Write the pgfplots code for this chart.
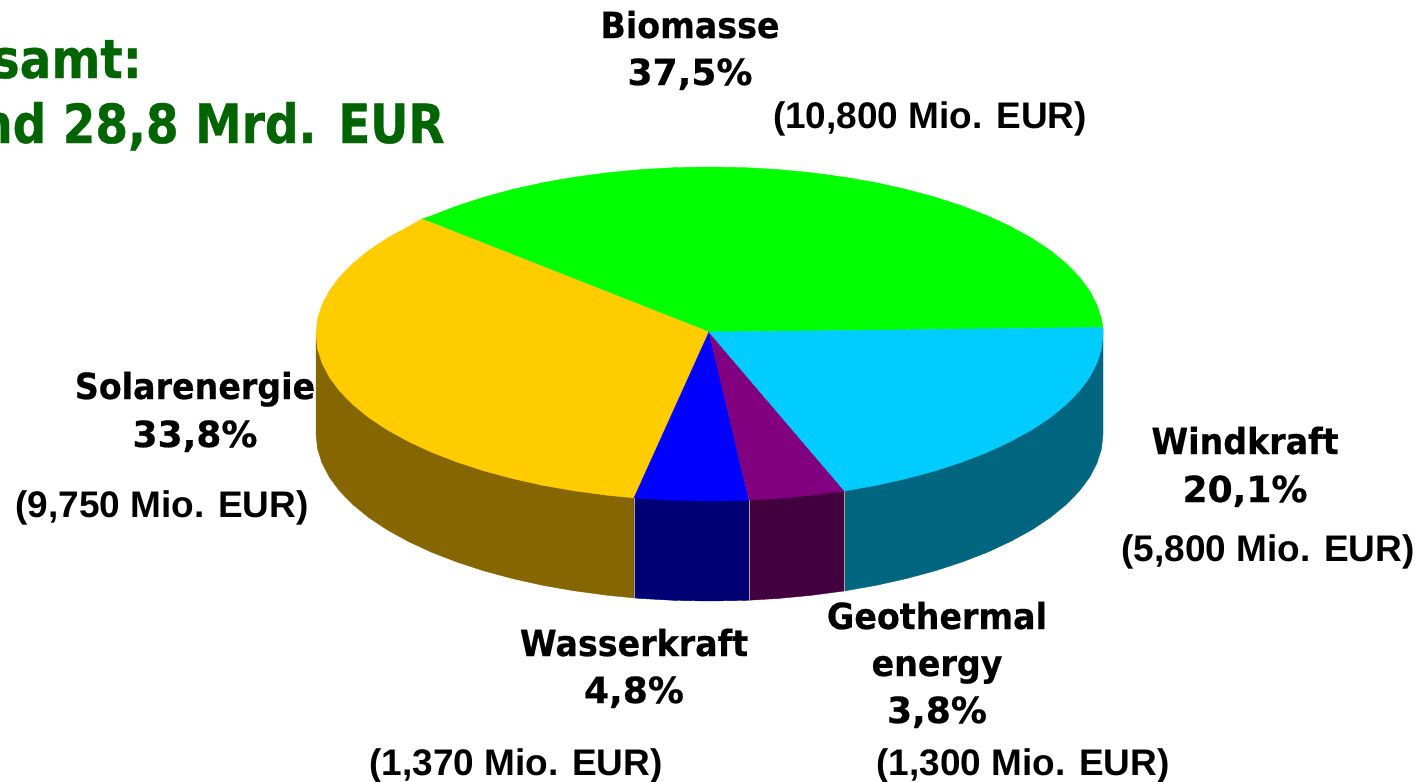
\documentclass[border=0pt]{standalone}
\usepackage{pgfplots}
\pgfplotsset{compat=1.18}
\usepackage{fontspec}
\setmainfont{Liberation Sans}
\newfontfamily\tah[FakeStretch=0.925,FakeBold=0.5]{DejaVu Sans Bold}
\newfontfamily\tahp[FakeStretch=1.0,FakeBold=0.5]{DejaVu Sans Bold}
\newfontfamily\taht[FakeStretch=0.87,FakeBold=0.6]{DejaVu Sans Bold}
\newfontfamily\ari{Liberation Sans Bold}
\definecolor{cGreen}{HTML}{00FF00}
\definecolor{cYellow}{HTML}{FFCC00}
\definecolor{cCyan}{HTML}{00CCFF}
\definecolor{cBlue}{HTML}{0000FF}
\definecolor{cPurple}{HTML}{800080}
\definecolor{sYellow}{HTML}{866600}
\definecolor{sBlue}{HTML}{000075}
\definecolor{sPurple}{HTML}{42003F}
\definecolor{sCyan}{HTML}{006680}
\definecolor{cTitle}{HTML}{006400}
\newcommand{\lab}[3]{\node[anchor=base,inner sep=0pt] at (axis cs:#1,#2) {\fontsize{18}{18}\tah #3};}
\newcommand{\labp}[3]{\node[anchor=base,inner sep=0pt] at (axis cs:#1,#2) {\fontsize{18}{18}\tahp #3};}
\newcommand{\mio}[3]{\node[anchor=base,inner sep=0pt] at (axis cs:#1,#2) {\fontsize{18.5}{18.5}\ari #3};}
\begin{document}
\begin{tikzpicture}
\useasboundingbox (0,0) rectangle (710pt,391pt);
\clip (0,0) rectangle (710pt,391pt);
\begin{axis}[at={(0,0)},anchor=south west,scale only axis,width=710pt,height=391pt,
  xmin=0,xmax=1420,ymin=0,ymax=782,y dir=reverse,hide axis,clip=false]
% side faces
\addplot[fill=sYellow,draw=sYellow,line width=0.2pt] coordinates {(316,334)(316,434)(317.5,448.6)(322,463)(329.4,477.2)(339.7,491.1)(352.9,504.6)(368.7,517.5)(387.2,529.8)(408.1,541.3)(431.3,552.1)(456.6,561.9)(483.8,570.8)(512.7,578.6)(543.2,585.4)(574.9,590.9)(607.7,595.3)(634,597.9)(634,497.9)} -- cycle;
\addplot[fill=sBlue,draw=sBlue,line width=0.2pt] coordinates {(634,497.9)(634,597.9)(641.2,598.5)(675.2,600.4)(709.5,601)(743.8,600.4)(749,600.2)(749,500)} -- cycle;
\addplot[fill=sPurple,draw=sPurple,line width=0.2pt] coordinates {(749,500)(749,600.2)(777.8,598.5)(811.3,595.3)(844.5,590.9)(844.5,490.9)} -- cycle;
\addplot[fill=sCyan,draw=sCyan,line width=0.2pt] coordinates {(844.5,490.9)(844.5,590.9)(875.8,585.4)(906.3,578.6)(935.2,570.8)(962.4,561.9)(987.7,552.1)(1010.9,541.3)(1031.8,529.8)(1050.3,517.5)(1066.1,504.6)(1079.3,491.1)(1089.6,477.2)(1097,463)(1101.5,448.6)(1103,434)(1103,328)} -- cycle;
% thin edges between side faces
\addplot[draw=gray!70,line width=0.3pt] coordinates {(634,497.9)(634,597.9)};
\addplot[draw=gray!70,line width=0.3pt] coordinates {(749,500)(749,600.2)};
\addplot[draw=gray!70,line width=0.3pt] coordinates {(844.5,490.9)(844.5,590.9)};
% top faces
\addplot[fill=cGreen,draw=cGreen,line width=0.2pt] coordinates {(709,332)(1103,327.5)(1101.5,319.4)(1097,305)(1089.6,290.8)(1079.3,276.9)(1066.1,263.4)(1050.3,250.5)(1031.8,238.2)(1010.9,226.7)(987.7,215.9)(962.4,206.1)(935.2,197.2)(906.3,189.4)(875.8,182.6)(844.1,177.1)(811.3,172.7)(777.8,169.5)(743.8,167.6)(709.5,167)(675.2,167.6)(641.2,169.5)(607.7,172.7)(574.9,177.1)(543.2,182.6)(512.7,189.4)(483.8,197.2)(456.6,206.1)(431.3,215.9)(422,219)} -- cycle;
\addplot[fill=cYellow,draw=cYellow,line width=0.2pt] coordinates {(709,332)(422,219)(408.1,226.7)(387.2,238.2)(368.7,250.5)(352.9,263.4)(339.7,276.9)(329.4,290.8)(322,305)(317.5,319.4)(316,334)(317.5,348.6)(322,363)(329.4,377.2)(339.7,391.1)(352.9,404.6)(368.7,417.5)(387.2,429.8)(408.1,441.3)(431.3,452.1)(456.6,461.9)(483.8,470.8)(512.7,478.6)(543.2,485.4)(574.9,490.9)(607.7,495.3)(634,497.9)} -- cycle;
\addplot[fill=cBlue,draw=cBlue,line width=0.2pt] coordinates {(709,332)(634,497.9)(641.2,498.5)(675.2,500.4)(709.5,501)(743.8,500.4)(749,500)} -- cycle;
\addplot[fill=cPurple,draw=cPurple,line width=0.2pt] coordinates {(709,332)(749,500)(777.8,498.5)(811.3,495.3)(844.5,490.9)} -- cycle;
\addplot[fill=cCyan,draw=cCyan,line width=0.2pt] coordinates {(709,332)(844.5,490.9)(875.8,485.4)(906.3,478.6)(935.2,470.8)(962.4,461.9)(987.7,452.1)(1010.9,441.3)(1031.8,429.8)(1050.3,417.5)(1066.1,404.6)(1079.3,391.1)(1089.6,377.2)(1097,363)(1101.5,348.6)(1103,334)(1103,327.5)} -- cycle;
% title
\node[anchor=base east,inner sep=0pt,text=cTitle] at (axis cs:142,78) {\fontsize{27}{27}\taht Gesamt:};
\node[anchor=base east,inner sep=0pt,text=cTitle] at (axis cs:445,143) {\fontsize{27}{27}\taht rund 28,8 Mrd. EUR};
% labels
\lab{690}{38}{Biomasse}
\labp{690}{85}{37,5\%}
\mio{930}{128}{(10,800 Mio. EUR)}
\lab{195}{399}{Solarenergie}
\labp{195}{447}{33,8\%}
\mio{162}{517}{(9,750 Mio. EUR)}
\lab{1245}{454}{Windkraft}
\labp{1245}{502}{20,1\%}
\mio{1268}{561}{(5,800 Mio. EUR)}
\lab{634}{656}{Wasserkraft}
\labp{634}{703}{4,8\%}
\mio{516}{775}{(1,370 Mio. EUR)}
\lab{937}{629}{Geothermal}
\lab{937}{676}{energy}
\labp{937}{723}{3,8\%}
\mio{1023}{775}{(1,300 Mio. EUR)}
\end{axis}
\end{tikzpicture}
\end{document}
